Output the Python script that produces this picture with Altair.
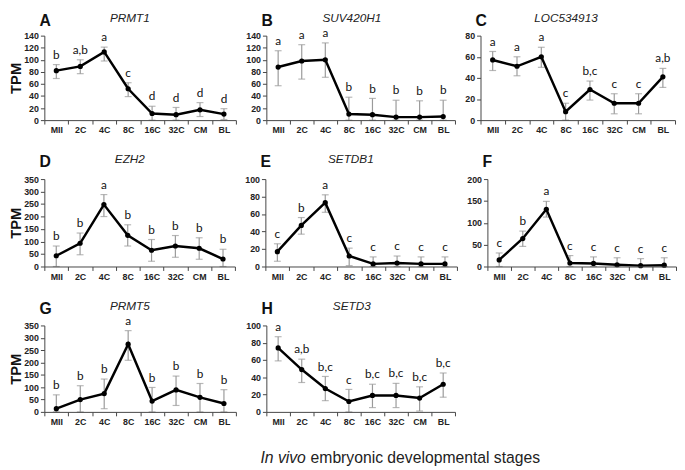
import altair as alt
import pandas as pd

stages = ["MII", "2C", "4C", "8C", "16C", "32C", "CM", "BL"]

# A PRMT1
prmt1_mean = [82, 89, 113, 52, 11, 9, 17, 10]
prmt1_low = [69, 77, 98, 39, 0, 0, 6, 1]
prmt1_high = [92, 100, 121, 62, 23, 21, 29, 19]
prmt1_sig = ["b", "a,b", "a", "c", "d", "d", "d", "d"]

# B SUV420H1
suv_mean = [88, 98, 100, 10, 9, 5, 5, 6]
suv_low = [57, 68, 71, 0, 0, 0, 0, 0]
suv_high = [115, 125, 128, 38, 36, 33, 32, 33]
suv_sig = ["a", "a", "a", "b", "b", "b", "b", "b"]

# C LOC534913
loc_mean = [57, 51, 60, 8, 29, 16, 16, 41]
loc_low = [47, 42, 50, 0, 19, 6, 6, 31]
loc_high = [65, 60, 69, 16, 37, 25, 25, 49]
loc_sig = ["a", "a", "a", "c", "b,c", "c", "c", "a,b"]

# D EZH2
ezh2_mean = [43, 93, 248, 125, 65, 82, 73, 30]
ezh2_low = [0, 47, 200, 82, 21, 37, 29, 0]
ezh2_high = [82, 134, 288, 167, 108, 124, 115, 69]
ezh2_sig = ["b", "b", "a", "b", "b", "b", "b", "b"]

# E SETDB1
setdb1_mean = [17, 47, 73, 12, 3, 4, 3, 3]
setdb1_low = [6, 37, 62, 1, 0, 0, 0, 0]
setdb1_high = [26, 56, 82, 21, 11, 12, 11, 11]
setdb1_sig = ["c", "b", "a", "c", "c", "c", "c", "c"]

# F (no gene name)
f_mean = [15, 64, 131, 8, 7, 4, 2, 3]
f_low = [0, 46, 113, 0, 0, 0, 0, 0]
f_high = [31, 81, 149, 25, 22, 20, 18, 20]
f_sig = ["c", "b", "a", "c", "c", "c", "c", "c"]

# G PRMT5
prmt5_mean = [13, 50, 74, 274, 44, 89, 59, 34]
prmt5_low = [0, 0, 13, 209, 0, 26, 0, 0]
prmt5_high = [69, 106, 133, 329, 99, 145, 115, 90]
prmt5_sig = ["b", "b", "b", "a", "b", "b", "b", "b"]

# H SETD3
setd3_mean = [74, 49, 27, 12, 19, 19, 16, 32]
setd3_low = [59, 34, 13, 0, 5, 5, 1, 17]
setd3_high = [87, 61, 41, 26, 32, 33, 29, 45]
setd3_sig = ["a", "a,b", "b,c", "c", "b,c", "b,c", "b,c", "b,c"]

caption_italic = "In vivo"
caption_rest = "embryonic developmental stages"

AXIS_FONT = "Liberation Sans"
LABEL_COLOR = "#222222"
AXIS_COLOR = "#444444"


def panel(letter, gene, mean, low, high, sig, ymax, ystep, width, height,
          tpm, top_shift):
    df = pd.DataFrame({"stage": stages, "mean": mean, "low": low,
                       "high": high, "sig": sig})
    xenc = alt.X("stage:N", sort=stages,
                 scale=alt.Scale(paddingInner=0, paddingOuter=0),
                 axis=alt.Axis(title=None, labelAngle=0, tickBand="extent",
                               labelFont=AXIS_FONT, labelFontSize=9,
                               labelFontWeight="bold", labelColor=LABEL_COLOR,
                               domainColor=AXIS_COLOR, tickColor=AXIS_COLOR,
                               tickSize=4, labelPadding=2, grid=False,
                               zindex=1))
    yaxis_kw = dict(values=list(range(0, ymax + 1, ystep)),
                    labelFont=AXIS_FONT, labelFontSize=9,
                    labelFontWeight="bold", labelColor=LABEL_COLOR,
                    domainColor=AXIS_COLOR, tickColor=AXIS_COLOR,
                    tickSize=4, labelPadding=2, grid=False, zindex=1)
    if tpm:
        yaxis = alt.Axis(title="TPM", titleFont=AXIS_FONT, titleFontSize=15,
                         titleFontWeight="bold", titleColor="#111111",
                         titlePadding=0, **yaxis_kw)
    else:
        yaxis = alt.Axis(title=None, **yaxis_kw)
    yscale = alt.Scale(domain=[0, ymax], nice=False)

    def Y(field):
        return alt.Y(field + ":Q", scale=yscale, axis=yaxis)

    base = alt.Chart(df)
    err = base.mark_rule(color="#9a9a9a", strokeWidth=1.2).encode(
        x=xenc, y=Y("low"), y2="high:Q")
    cap_hi = base.mark_tick(color="#9a9a9a", thickness=1.2, size=7).encode(
        x=xenc, y=Y("high"))
    cap_lo = base.mark_tick(color="#9a9a9a", thickness=1.2, size=7).encode(
        x=xenc, y=Y("low"))
    line = base.mark_line(color="black", strokeWidth=2.5).encode(
        x=xenc, y=Y("mean"))
    pts = base.mark_point(filled=True, color="black", opacity=1,
                          size=28).encode(x=xenc, y=Y("mean"))
    txt = base.mark_text(font="Lato", fontSize=12, fill="#111111",
                         baseline="alphabetic", dy=-6).encode(
        x=xenc, y=Y("high"), text="sig:N")
    layers = [err, cap_hi, cap_lo, line, pts, txt]

    lab = alt.Chart(pd.DataFrame({"t": [letter]})).mark_text(
        font=AXIS_FONT, fontSize=16, fontWeight="bold", color="#111111",
        align="left", baseline="alphabetic").encode(
        x=alt.value(-5), y=alt.value(-12 + top_shift), text="t:N")
    layers.append(lab)
    if gene:
        ttl = alt.Chart(pd.DataFrame({"t": [gene]})).mark_text(
            font=AXIS_FONT, fontSize=12, fontStyle="italic", color="#222222",
            align="center", baseline="alphabetic").encode(
            x=alt.value(87), y=alt.value(-16 + top_shift), text="t:N")
        layers.append(ttl)
    return alt.layer(*layers).properties(width=width, height=height)


row1 = alt.hconcat(
    panel("A", "PRMT1", prmt1_mean, prmt1_low, prmt1_high, prmt1_sig, 140, 20, 195, 86, True, 2),
    panel("B", "SUV420H1", suv_mean, suv_low, suv_high, suv_sig, 140, 20, 192, 86, False, 2),
    panel("C", "LOC534913", loc_mean, loc_low, loc_high, loc_sig, 80, 20, 198, 86, False, 2),
    spacing=8)
row2 = alt.hconcat(
    panel("D", "EZH2", ezh2_mean, ezh2_low, ezh2_high, ezh2_sig, 350, 50, 194, 89, True, 0),
    panel("E", "SETDB1", setdb1_mean, setdb1_low, setdb1_high, setdb1_sig, 100, 20, 195, 89, False, 0),
    panel("F", None, f_mean, f_low, f_high, f_sig, 200, 50, 192, 89, False, 0),
    spacing=8)
row3 = alt.hconcat(
    panel("G", "PRMT5", prmt5_mean, prmt5_low, prmt5_high, prmt5_sig, 350, 50, 195, 88, True, 0),
    panel("H", "SETD3", setd3_mean, setd3_low, setd3_high, setd3_sig, 100, 20, 192, 88, False, 0),
    spacing=8)

cap_df = pd.DataFrame({"a": [caption_italic], "b": [caption_rest]})
cap1 = alt.Chart(cap_df).mark_text(
    font=AXIS_FONT, fontSize=16, fontStyle="italic", color="#222222",
    align="left", baseline="middle").encode(
    x=alt.value(220), y=alt.value(13), text="a:N")
cap2 = alt.Chart(cap_df).mark_text(
    font=AXIS_FONT, fontSize=16, color="#222222",
    align="left", baseline="middle").encode(
    x=alt.value(271), y=alt.value(13), text="b:N")
caption = alt.layer(cap1, cap2).properties(width=600, height=20)

chart = alt.vconcat(row1, row2, row3, caption, spacing=19).configure_view(
    stroke=None).properties(padding={"left": 0, "top": 0, "right": 0, "bottom": 0})

chart.save("out.html", embed_options={"renderer": "svg", "actions": False})
